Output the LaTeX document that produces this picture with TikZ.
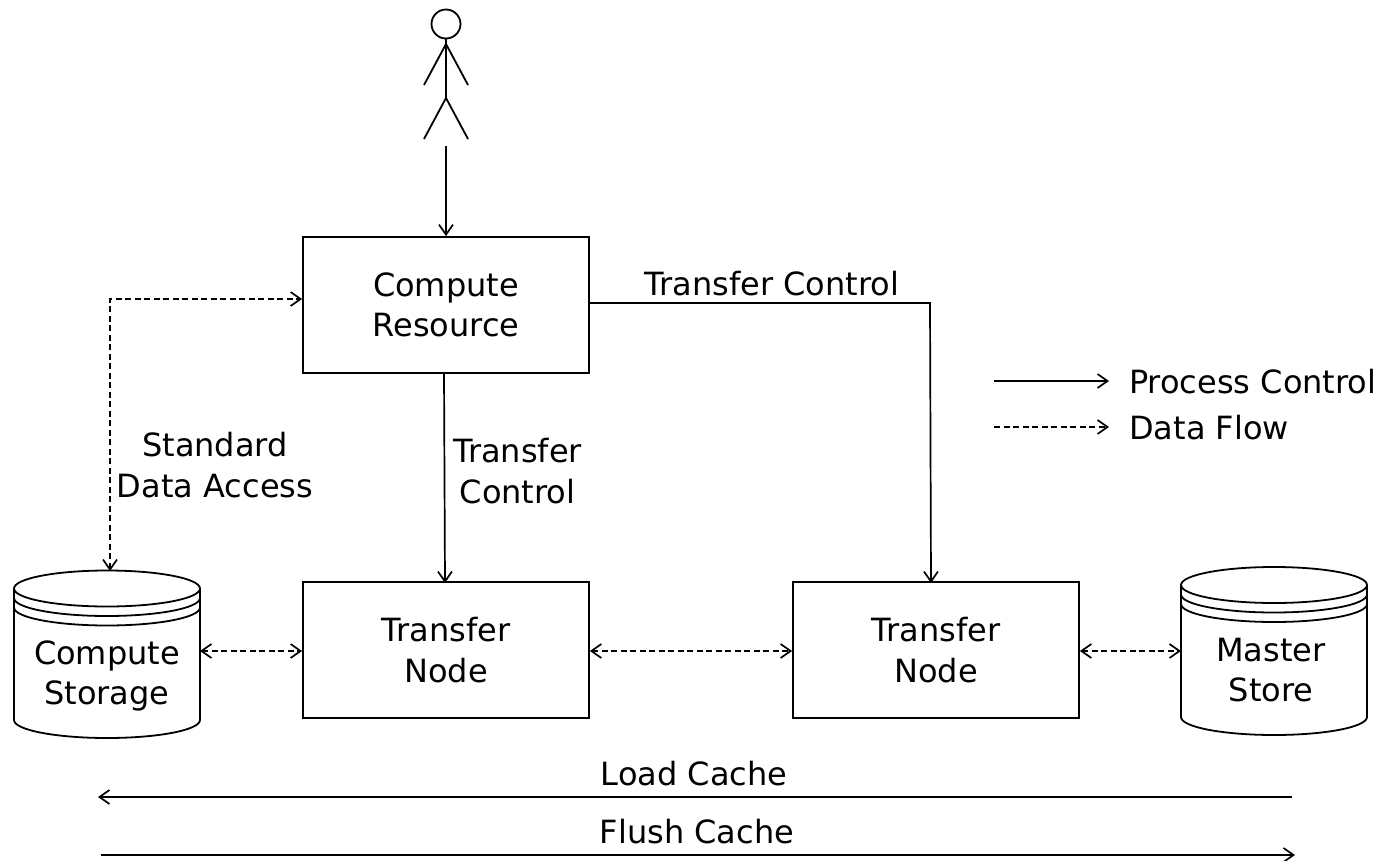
\documentclass[tikz,border=0pt]{standalone}
\usepackage{fontspec}
\setmainfont{DejaVu Sans}
\usetikzlibrary{arrows.meta}
\tikzset{
 x=1pt,y=-1pt,
 tip/.tip={Straight Barb[length=10pt,width=14pt,line width=1.7pt]},
 boxn/.style={draw,line width=1.8pt,minimum width=286,minimum height=136,inner sep=0,align=center,font=\fontsize{32}{40.5}\selectfont},
 lab/.style={inner sep=0,align=center,font=\fontsize{32}{40.5}\selectfont},
 ctl/.style={line width=1.7pt,-tip},
 dat/.style={line width=1.9pt,dash pattern=on 6pt off 3.5pt,-tip},
 bidat/.style={line width=1.9pt,dash pattern=on 6pt off 3.5pt,tip-tip},
 thin1/.style={line width=1.8pt}
}
\newcommand{\cyl}[5]{% x-left,x-right,top-centre y,bottom y, ry
 \draw[thin1,fill=white] (#1,#3) -- (#1,#4) arc[start angle=180,end angle=0,x radius={(#2-#1)/2},y radius=#5] -- (#2,#3);
 \draw[thin1,fill=white] ({(#1+#2)/2},#3) ellipse[x radius={(#2-#1)/2},y radius=#5];
 \draw[thin1] (#1,#3+9.5) arc[start angle=180,end angle=0,x radius={(#2-#1)/2},y radius=#5];
 \draw[thin1] (#1,#3+19) arc[start angle=180,end angle=0,x radius={(#2-#1)/2},y radius=#5];
}
\begin{document}
\begin{tikzpicture}
\useasboundingbox (0,0) rectangle (1385,860);
\node[boxn] (cr) at (446,305) {Compute\\Resource};
\node[boxn] (tn1) at (446,650) {Transfer\\Node};
\node[boxn] (tn2) at (936,650) {Transfer\\Node};
% actor
\draw[thin1] (446,24) circle (14.5);
\draw[thin1] (446,38.5) -- (446,98) (446,44) -- (424,85) (446,44) -- (468,85) (446,98) -- (424,139) (446,98) -- (468,139);
\coordinate (act) at (446,146);
\draw[ctl] (act) -- (cr.north);
% cylinders
\cyl{14}{200}{588.5}{720}{18}
\cyl{1181}{1367}{585}{717}{18}
\node[lab] (cst) at (107,676) {Compute\\Storage};
\node[lab] (ms) at (1271,670) {Master\\Store};
\coordinate (csE) at (200,651);
\coordinate (csN) at (110,571);
\coordinate (msW) at (1181,651);
% connectors
\draw[ctl] (cr.south -| 444,0) -- (445,583);
\draw[ctl] (cr.east |- 0,303) -- (930,303) -- (931,583);
\draw[bidat] (csN) -- (110,299) -- (cr.west |- 0,299);
\draw[bidat] (csE) -- (tn1.west |- csE);
\draw[bidat] (tn1.east |- csE) -- (tn2.west |- csE);
\draw[bidat] (tn2.east |- msW) -- (msW);
% labels
\node[lab] at (772,284) {Transfer Control};
\node[lab] at (517.5,471) {Transfer\\Control};
\node[lab] at (215,465) {Standard\\Data Access};
\node[lab] at (694,774) {Load Cache};
\node[lab] at (697,832) {Flush Cache};
% bottom
\coordinate (l1) at (1292,797); \coordinate (l2) at (98,797);
\coordinate (f1) at (101,855); \coordinate (f2) at (1295,855);
\draw[ctl] (l1) -- (l2);
\draw[ctl] (f1) -- (f2);
% legend
\coordinate (a1) at (994,381); \coordinate (a2) at (1109,381);
\coordinate (b1) at (994,427); \coordinate (b2) at (1109,427);
\draw[ctl] (a1) -- (a2);
\draw[dat] (b1) -- (b2);
\node[lab,anchor=west] at (1129,382) {Process Control};
\node[lab,anchor=west] at (1129,428) {Data Flow};
\end{tikzpicture}
\end{document}
